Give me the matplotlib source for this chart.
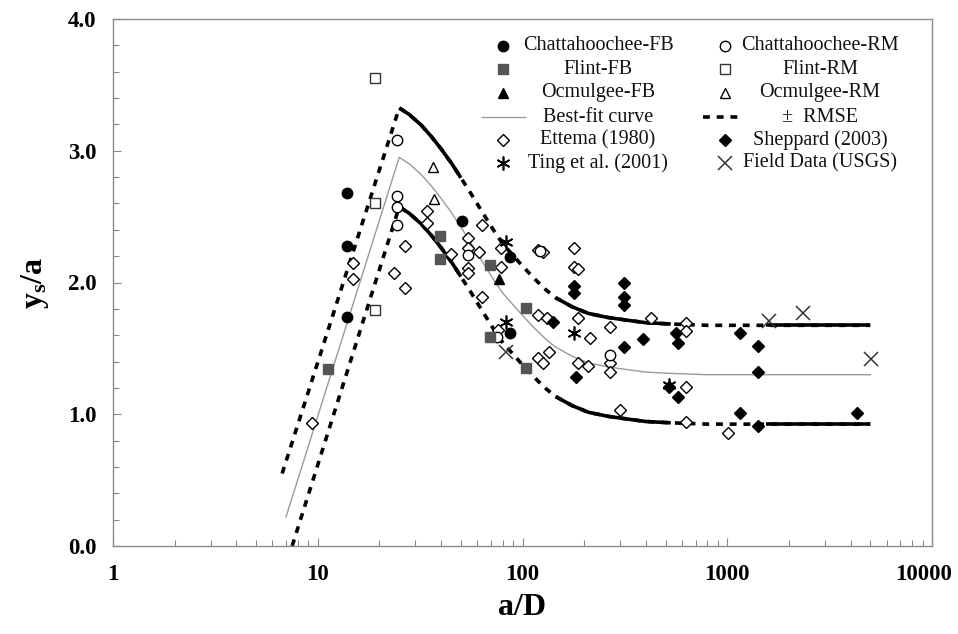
import numpy as np
import matplotlib
matplotlib.use("Agg")
import matplotlib.pyplot as plt
import matplotlib.transforms as mtransforms
from matplotlib.ticker import FixedLocator, NullFormatter, FormatStrFormatter
from matplotlib.lines import Line2D

plt.rcParams['font.family'] = ['Liberation Serif', 'DejaVu Serif']
plt.rcParams['mathtext.fontset'] = 'custom'
plt.rcParams['mathtext.rm'] = 'Liberation Serif:bold'
plt.rcParams['mathtext.bf'] = 'Liberation Serif:bold'
plt.rcParams['mathtext.it'] = 'Liberation Serif:bold'

# ---------------- data ----------------
chat_fb_x = [13.9, 13.9, 13.9, 50.9, 86.4, 86.4]
chat_fb_y = [2.68, 2.28, 1.74, 2.47, 2.19, 1.62]

chat_rm_x = [24.4, 24.5, 24.5, 24.5, 54, 75, 122, 269]
chat_rm_y = [3.08, 2.66, 2.57, 2.44, 2.21, 1.59, 2.24, 1.45]

flint_fb_x = [11.2, 39.7, 39.7, 69.7, 69.7, 103.5, 103.5]
flint_fb_y = [1.34, 2.35, 2.18, 2.13, 1.59, 1.81, 1.35]

flint_rm_x = [19.1, 19.1, 19.1]
flint_rm_y = [3.55, 2.60, 1.79]

ocm_fb_x = [77.2]
ocm_fb_y = [2.03]

ocm_rm_x = [36.7, 37.0]
ocm_rm_y = [2.88, 2.63]

ettema_x = [9.4, 14.9, 14.9, 23.7, 26.8, 26.8, 34, 34, 45, 54, 54, 54, 54, 61.6,
            63.6, 63.6, 78.9, 78.9, 75.5, 119.7, 126, 177.6, 177.6, 186, 119.7,
            132, 186, 213, 269, 423, 626, 626, 119.7, 134, 126, 186, 210, 269,
            269, 626, 301, 626, 1005]
ettema_y = [0.93, 2.15, 2.03, 2.07, 2.28, 1.96, 2.54, 2.45, 2.22, 2.34, 2.26, 2.11, 2.07, 2.23,
            2.44, 1.89, 2.26, 2.12, 1.64, 2.25, 2.23, 2.26, 2.12, 2.10, 1.75,
            1.73, 1.73, 1.58, 1.66, 1.73, 1.69, 1.63, 1.43, 1.47, 1.39, 1.39, 1.37, 1.39,
            1.32, 1.21, 1.03, 0.94, 0.86]

sheppard_x = [141, 177.6, 177.6, 182, 312, 312, 312, 312, 386, 518, 560, 574, 574,
              1150, 1150, 1409, 1409, 1409, 4300]
sheppard_y = [1.70, 1.97, 1.92, 1.28, 2.00, 1.89, 1.83, 1.51, 1.57, 1.21, 1.62, 1.54, 1.13,
              1.62, 1.01, 1.52, 1.32, 0.91, 1.01]

ting_x = [82.6, 82.6, 177.6, 520]
ting_y = [2.31, 1.70, 1.62, 1.22]

field_x = [82.6, 1596, 2340, 5030]
field_y = [1.47, 1.71, 1.77, 1.42]

# best-fit curve
best_x = [7.0, 25, 28, 32, 36, 40, 45, 50, 56, 63, 71, 80, 90, 100, 115, 130, 145,
          175, 210, 260, 320, 400, 530, 800, 1100, 1550, 5000]
best_y = [0.22, 2.95, 2.90, 2.82, 2.73, 2.64, 2.53, 2.42, 2.30, 2.17, 2.04, 1.92, 1.83,
          1.75, 1.65, 1.57, 1.51, 1.44, 1.39, 1.36, 1.34, 1.32, 1.31, 1.30, 1.30, 1.30, 1.30]
rmse = 0.375
upper_start = (6.7, 0.55)
lower_start = (7.5, 0.0)
solid_ranges = [(25, 50), (145, 530), (1550, 5000)]

x_ticks = [1, 10, 100, 1000, 10000]
x_ticklabels = ['1', '10', '100', '1000', '10000']

# ---------------- figure ----------------
W, H = 958, 634
fig = plt.figure(figsize=(W / 100, H / 100), dpi=100)
L, R, T, B = 113, 932, 19, 546
ax = fig.add_axes([L / W, 1 - B / H, (R - L) / W, (B - T) / H])
ax.set_xscale('log')
ax.set_xlim(1, 10000)
ax.set_ylim(0, 4)

bx = np.array(best_x)
by = np.array(best_y)
ux = np.concatenate([[upper_start[0]], bx[1:]])
uy = np.concatenate([[upper_start[1]], by[1:] + rmse])
lx = np.concatenate([[lower_start[0]], bx[1:]])
ly = np.concatenate([[lower_start[1]], by[1:] - rmse])

ax.plot(bx, by, color='#9a9a9a', lw=1.0, zorder=2)
for cx, cy in [(ux, uy), (lx, ly)]:
    ax.plot(cx, cy, color='black', lw=2.6, ls=(0, (1.9, 1.9)), zorder=2)
    for a, b in solid_ranges:
        m = (cx >= a) & (cx <= b)
        ax.plot(cx[m], cy[m], color='black', lw=2.6, zorder=2.1, solid_capstyle='butt')

ms = 7.5
styles = {
    'chat_fb': dict(marker='o', mfc='black', mec='black', ms=ms),
    'chat_rm': dict(marker='o', mfc='white', mec='black', ms=ms, mew=1.0),
    'flint_fb': dict(marker='s', mfc='#555555', mec='#555555', ms=ms),
    'flint_rm': dict(marker='s', mfc='white', mec='#333333', ms=ms, mew=1.0),
    'ocm_fb': dict(marker='^', mfc='black', mec='black', ms=ms),
    'ocm_rm': dict(marker='^', mfc='white', mec='black', ms=ms, mew=1.0),
    'ettema': dict(marker='D', mfc='white', mec='black', ms=6, mew=1.0),
    'sheppard': dict(marker='D', mfc='black', mec='black', ms=6),
    'ting': dict(marker=(6, 2, 0), mfc='black', mec='black', ms=10, mew=1.2),
    'field': dict(marker='x', mfc='none', mec='#333333', ms=10, mew=1.1),
}
series = [
    ('ettema', ettema_x, ettema_y),
    ('sheppard', sheppard_x, sheppard_y),
    ('chat_rm', chat_rm_x, chat_rm_y),
    ('flint_rm', flint_rm_x, flint_rm_y),
    ('ocm_rm', ocm_rm_x, ocm_rm_y),
    ('chat_fb', chat_fb_x, chat_fb_y),
    ('flint_fb', flint_fb_x, flint_fb_y),
    ('ocm_fb', ocm_fb_x, ocm_fb_y),
    ('ting', ting_x, ting_y),
    ('field', field_x, field_y),
]
for key, xs, ys in series:
    ax.plot(xs, ys, ls='none', zorder=3, **styles[key])

# axes styling
for s in ax.spines.values():
    s.set_color('#8a8a8a')
    s.set_linewidth(1.0)
ax.yaxis.set_major_locator(FixedLocator([0, 1, 2, 3, 4]))
ax.yaxis.set_minor_locator(FixedLocator(np.arange(0, 4.01, 0.2)))
ax.yaxis.set_major_formatter(FormatStrFormatter('%.1f'))
ax.set_xticks(x_ticks)
ax.set_xticklabels(x_ticklabels)
ax.tick_params(which='both', direction='in', color='#8a8a8a', width=0.8)
ax.tick_params(which='major', length=6)
ax.tick_params(which='minor', length=4)
ax.tick_params(axis='x', which='major', pad=13)
ax.tick_params(axis='y', which='major', pad=12)
for lab in ax.get_xticklabels() + ax.get_yticklabels():
    lab.set_fontsize(16.5)
    lab.set_fontweight('bold')
ax.xaxis.set_minor_formatter(NullFormatter())
# nudge the last x label so it stays inside the figure
last = ax.get_xticklabels()[-1]
last.set_transform(last.get_transform() +
                   mtransforms.ScaledTranslation(-8 / 100, 0, fig.dpi_scale_trans))

ax.set_xlabel('a/D', fontsize=23, fontweight='bold', labelpad=6)
ax.set_ylabel(r'$\mathbf{y_s/a}$', fontsize=23, labelpad=12)

# ---------------- legend (manual) ----------------
def axc(px, py):
    return ((px - L) / (R - L), (B - py) / (B - T))

rows = [46, 69, 93, 117, 140, 163]
col1 = ['chat_fb', 'flint_fb', 'ocm_fb', 'best', 'ettema', 'ting']
col1_txt = ['Chattahoochee-FB', 'Flint-FB', 'Ocmulgee-FB', 'Best-fit curve',
            'Ettema (1980)', 'Ting et al. (2001)']
col2 = ['chat_rm', 'flint_rm', 'ocm_rm', 'rmse', 'sheppard', 'field']
col2_txt = ['Chattahoochee-RM', 'Flint-RM', 'Ocmulgee-RM', '\u00b1  RMSE',
            'Sheppard (2003)', 'Field Data (USGS)']
for keys, txts, mx, tx, (l0, l1) in [(col1, col1_txt, 503, 598, (482, 525)),
                                      (col2, col2_txt, 725, 820, (703, 743))]:
    for key, txt, py in zip(keys, txts, rows):
        if key == 'best':
            a0 = axc(l0, py); a1 = axc(l1, py)
            ax.add_line(Line2D([a0[0], a1[0]], [a0[1], a1[1]], transform=ax.transAxes,
                               color='#9a9a9a', lw=1.0))
        elif key == 'rmse':
            a0 = axc(l0, py); a1 = axc(l1, py)
            ax.add_line(Line2D([a0[0], a1[0]], [a0[1], a1[1]], transform=ax.transAxes,
                               color='black', lw=2.6, ls=(0, (1.9, 1.9))))
        else:
            st = dict(styles[key])
            a = axc(mx, py)
            ax.add_line(Line2D([a[0]], [a[1]], transform=ax.transAxes, ls='none', **st))
        a = axc(tx, py)
        ax.text(a[0], a[1], txt, transform=ax.transAxes, ha='center', va='center',
                fontsize=14.5, color='#111111')

fig.savefig('out.png', dpi=100)
